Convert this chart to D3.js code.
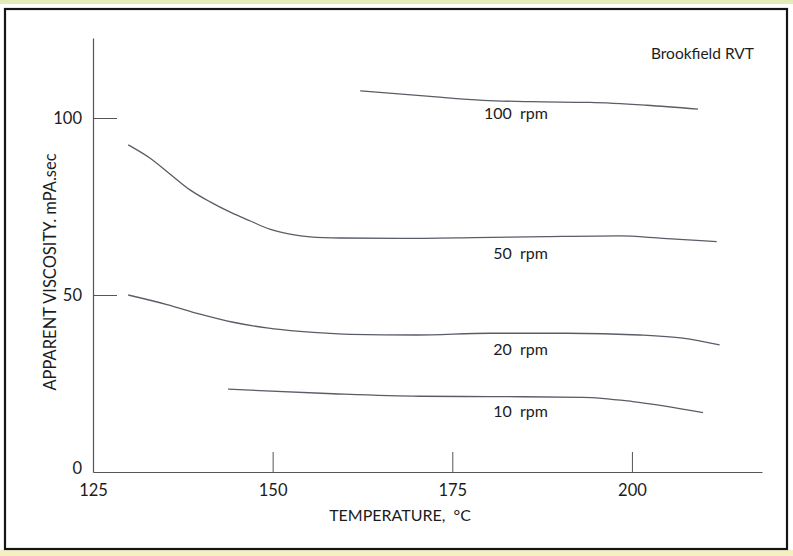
<!DOCTYPE html>
<html>
<head>
<meta charset="utf-8">
<script src="https://cdn.jsdelivr.net/npm/d3@7"></script>
<style>
  html, body { margin: 0; padding: 0; background: #fff; }
  svg { display: block; }
  text { font-family: Lato, "Open Sans", sans-serif; fill: #1c1c1c; }
</style>
</head>
<body>
<svg id="chart" width="793" height="556"></svg>
<script>
// ---- data ----
const xTicks = [125, 150, 175, 200];
const yTicks = [0, 50, 100];

const temp100 = [162.2, 171.9, 179.3, 186.0, 194.2, 202.0, 209.2];
const visc100 = [107.7, 106.1, 105.0, 104.6, 104.4, 103.6, 102.5];

const temp50 = [129.9, 132.9, 135.7, 138.5, 141.3, 144.1, 146.9, 149.6, 152.4, 155.2, 159.4, 167.7, 178.0, 188.1, 198.3, 204.3, 211.8];
const visc50 = [92.4, 88.7, 84.2, 79.7, 76.3, 73.4, 70.9, 68.6, 67.2, 66.4, 66.1, 66.0, 66.2, 66.5, 66.7, 66.0, 65.1];

const temp20 = [129.9, 135.3, 139.9, 144.5, 149.2, 153.8, 160.8, 170.0, 180.2, 190.9, 201.1, 207.1, 212.2];
const visc20 = [50.0, 47.3, 44.6, 42.3, 40.7, 39.7, 38.9, 38.7, 39.2, 39.2, 38.7, 37.8, 35.9];

const temp10 = [143.8, 158.4, 170.5, 180.2, 193.2, 200.1, 209.9];
const visc10 = [23.4, 22.1, 21.4, 21.3, 21.1, 19.9, 16.8];

const seriesNames = ["100 rpm", "50 rpm", "20 rpm", "10 rpm"];
const seriesTemps = [temp100, temp50, temp20, temp10];
const seriesVisc = [visc100, visc50, visc20, visc10];
// label anchor (right end of text) in data units
const labelTemp = [188.3, 188.3, 188.3, 188.3];
const labelVisc = [101.3, 61.7, 34.7, 17.1];

const xDomain = [125, 218.1];
const yDomain = [0, 122.6];

// ---- drawing ----
const svg = d3.select("#chart");
const font = "Lato, 'Open Sans', sans-serif";

// frame and edge strips
svg.append("rect").attr("x", 0).attr("y", 0).attr("width", 793).attr("height", 4).attr("fill", "#e2ecb8");
svg.append("rect").attr("x", 0).attr("y", 550).attr("width", 793).attr("height", 6).attr("fill", "#f4efc4");
svg.append("rect").attr("x", 5).attr("y", 9).attr("width", 782).attr("height", 540)
  .attr("fill", "none").attr("stroke", "#151515").attr("stroke-width", 2.2);

const x = d3.scaleLinear().domain(xDomain).range([93, 762]);
const y = d3.scaleLinear().domain(yDomain).range([472, 38]);

const axisColor = "#555";

const xAxis = svg.append("g").attr("transform", `translate(0,${y(0)})`)
  .call(d3.axisBottom(x).tickValues(xTicks).tickFormat(d3.format("d"))
    .tickSizeInner(-20).tickSizeOuter(0).tickPadding(12));
xAxis.select(".domain").attr("stroke", axisColor).attr("stroke-width", 1.2);
xAxis.selectAll(".tick line").attr("stroke", axisColor).attr("stroke-width", 1)
  .filter(d => d === xDomain[0]).remove();
xAxis.selectAll(".tick text").attr("font-size", 16.5).attr("fill", "#1c1c1c")
  .style("font-family", font);

const yAxis = svg.append("g").attr("transform", `translate(${x(xDomain[0])},0)`)
  .call(d3.axisLeft(y).tickValues(yTicks).tickFormat(d3.format("d"))
    .tickSizeInner(-24).tickSizeOuter(0).tickPadding(11));
yAxis.select(".domain").attr("stroke", axisColor).attr("stroke-width", 1.2);
yAxis.selectAll(".tick line").attr("stroke", axisColor).attr("stroke-width", 1)
  .filter(d => d === 0).remove();
yAxis.selectAll(".tick text").attr("font-size", 16.5).attr("fill", "#1c1c1c")
  .style("font-family", font);
yAxis.selectAll(".tick").filter(d => d === 0).select("text").attr("dy", "0.1em");

// curves
const line = d3.line().x(d => x(d[0])).y(d => y(d[1])).curve(d3.curveMonotoneX);
seriesNames.forEach((name, i) => {
  const pts = seriesTemps[i].map((t, j) => [t, seriesVisc[i][j]]);
  svg.append("path").datum(pts).attr("d", line)
    .attr("fill", "none").attr("stroke", "#585d66").attr("stroke-width", 1.3);
  svg.append("text").attr("x", x(labelTemp[i])).attr("y", y(labelVisc[i]))
    .attr("dy", "0.36em").attr("text-anchor", "end").attr("font-size", 16)
    .text(name.replace(" ", "\u00a0\u00a0"));
});

// titles
svg.append("text").attr("x", 400).attr("y", 515).attr("dy", "0.36em")
  .attr("text-anchor", "middle").attr("font-size", 16).text("TEMPERATURE,\u00a0\u00a0°C");
svg.append("text").attr("transform", `translate(50,272) rotate(-90)`).attr("dy", "0.36em")
  .attr("text-anchor", "middle").attr("font-size", 16.5).text("APPARENT VISCOSITY. mPA.sec");
svg.append("text").attr("x", 754).attr("y", 53).attr("dy", "0.36em")
  .attr("text-anchor", "end").attr("font-size", 15.5).text("Brookfield  RVT");
</script>
</body>
</html>
